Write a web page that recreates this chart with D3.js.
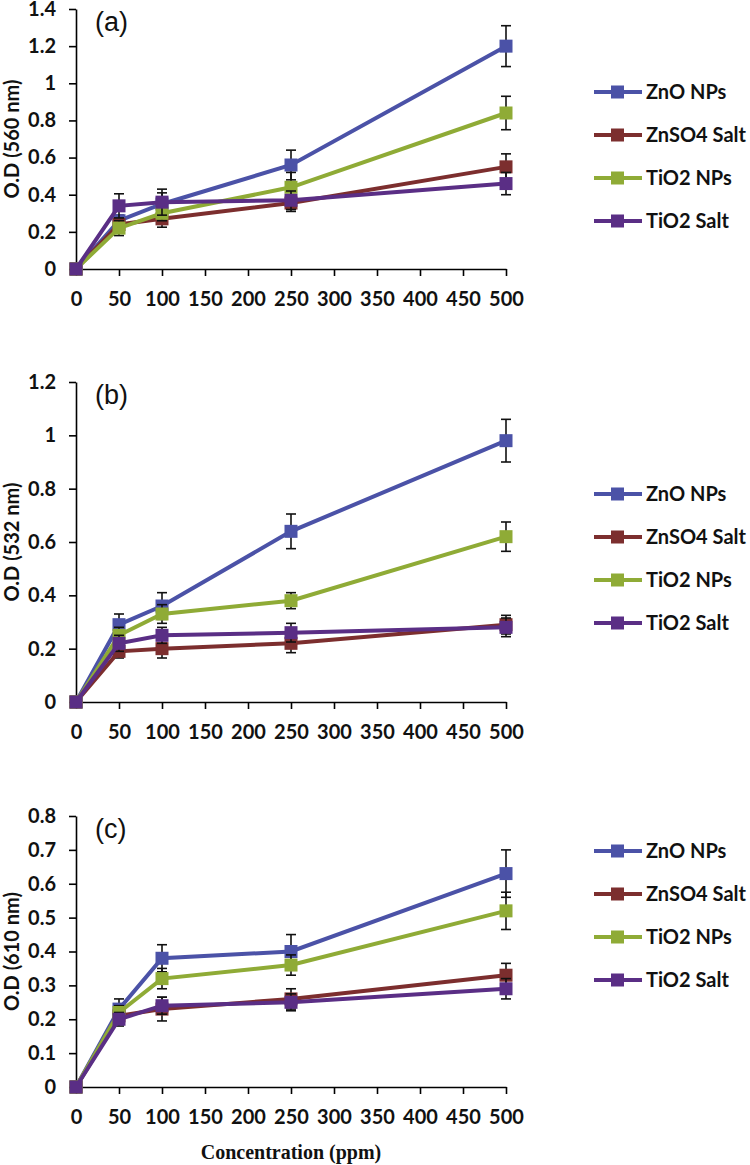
<!DOCTYPE html>
<html>
<head>
<meta charset="utf-8">
<script src="https://cdn.jsdelivr.net/npm/d3@7"></script>
<style>
  body { margin: 0; background: #fff; }
  svg { display: block; }
</style>
</head>
<body>
<div id="container"></div>
<script>
// concentrations (ppm)
let conc = [0, 50, 100, 250, 500];
let seriesNames = ["ZnO NPs", "ZnSO4 Salt", "TiO2 NPs", "TiO2 Salt"];
let seriesColors = ["#4b52a7", "#7c2e2e", "#8fab36", "#5a2e85"];

// panel (a) 560 nm
let zno_a = [0, 0.26, 0.35, 0.56, 1.20];
let znso4_a = [0, 0.24, 0.27, 0.355, 0.55];
let tio2_a = [0, 0.22, 0.30, 0.44, 0.84];
let tio2salt_a = [0, 0.34, 0.36, 0.37, 0.46];
let zno_a_err = [0, 0.03, 0.06, 0.08, 0.11];
let znso4_a_err = [0, 0.03, 0.045, 0.045, 0.07];
let tio2_a_err = [0, 0.04, 0.04, 0.08, 0.09];
let tio2salt_a_err = [0, 0.065, 0.07, 0.05, 0.06];

// panel (b) 532 nm
let zno_b = [0, 0.29, 0.36, 0.64, 0.98];
let znso4_b = [0, 0.19, 0.20, 0.22, 0.29];
let tio2_b = [0, 0.25, 0.33, 0.38, 0.62];
let tio2salt_b = [0, 0.22, 0.25, 0.26, 0.28];
let zno_b_err = [0, 0.04, 0.05, 0.065, 0.08];
let znso4_b_err = [0, 0.025, 0.035, 0.035, 0.035];
let tio2_b_err = [0, 0.03, 0.035, 0.03, 0.055];
let tio2salt_b_err = [0, 0.03, 0.03, 0.035, 0.035];

// panel (c) 610 nm
let zno_c = [0, 0.23, 0.38, 0.40, 0.63];
let znso4_c = [0, 0.21, 0.23, 0.26, 0.33];
let tio2_c = [0, 0.22, 0.32, 0.36, 0.52];
let tio2salt_c = [0, 0.20, 0.24, 0.25, 0.29];
let zno_c_err = [0, 0.03, 0.04, 0.05, 0.07];
let znso4_c_err = [0, 0.02, 0.035, 0.03, 0.035];
let tio2_c_err = [0, 0.02, 0.03, 0.03, 0.055];
let tio2salt_c_err = [0, 0.02, 0.025, 0.025, 0.03];

let xTicks = [0, 50, 100, 150, 200, 250, 300, 350, 400, 450, 500];

let panels = [
  { tag: "(a)", label: "O.D (560 nm)", ymax: 1.4, ystep: 0.2, top: 9, bottom: 269, legendY: 92,
    values: [zno_a, znso4_a, tio2_a, tio2salt_a], errs: [zno_a_err, znso4_a_err, tio2_a_err, tio2salt_a_err] },
  { tag: "(b)", label: "O.D (532 nm)", ymax: 1.2, ystep: 0.2, top: 382, bottom: 702, legendY: 494,
    values: [zno_b, znso4_b, tio2_b, tio2salt_b], errs: [zno_b_err, znso4_b_err, tio2_b_err, tio2salt_b_err] },
  { tag: "(c)", label: "O.D  (610 nm)", ymax: 0.8, ystep: 0.1, top: 816, bottom: 1087, legendY: 851,
    values: [zno_c, znso4_c, tio2_c, tio2salt_c], errs: [zno_c_err, znso4_c_err, tio2_c_err, tio2salt_c_err] }
];

let w = 750, h = 1165;
let plotLeft = 76, plotRight = 506;

let viz = d3.select("#container")
  .append("svg")
    .attr("width", w)
    .attr("height", h)
;

let x = d3.scaleLinear().domain([0, 500]).range([plotLeft, plotRight]);
let fmt = d => String(+d.toFixed(1));

panels.forEach(function(p){
  let g = viz.append("g").attr("class", "panel");
  let y = d3.scaleLinear().domain([0, p.ymax]).range([p.bottom, p.top]);
  let yTicks = d3.range(0, p.ymax + p.ystep / 2, p.ystep);

  // axes
  let xAxis = g.append("g")
    .attr("transform", "translate(0," + p.bottom + ")")
    .call(d3.axisBottom(x).tickValues(xTicks).tickSize(7).tickSizeOuter(0).tickPadding(16).tickFormat(d3.format("d")));
  let yAxis = g.append("g")
    .attr("transform", "translate(" + plotLeft + ",0)")
    .call(d3.axisLeft(y).tickValues(yTicks).tickSize(7).tickSizeOuter(0).tickPadding(13).tickFormat(fmt));

  [xAxis, yAxis].forEach(function(a){
    a.select(".domain").attr("stroke", "#000").attr("stroke-width", 1.6);
    a.selectAll(".tick line").attr("stroke", "#000").attr("stroke-width", 1.6);
    a.selectAll("text")
      .attr("fill", "#111")
      .style("font-family", "Lato, 'Open Sans', sans-serif")
      .style("font-weight", "700")
      .style("font-size", "20px");
  });

  // y label
  g.append("text")
    .text(p.label)
    .attr("transform", "translate(19," + ((p.top + p.bottom) / 2) + ") rotate(-90)")
    .attr("text-anchor", "middle")
    .style("font-family", "Lato, 'Open Sans', sans-serif")
    .style("font-weight", "700")
    .style("font-size", "20px")
    .attr("fill", "#111")
  ;

  // panel tag
  g.append("text")
    .text(p.tag)
    .attr("x", 95)
    .attr("y", p.top + 22)
    .style("font-family", "'Liberation Sans', Arial, sans-serif")
    .style("font-size", "27px")
    .attr("fill", "#111")
  ;

  // series
  p.values.forEach(function(vals, si){
    let col = seriesColors[si];
    let pts = conc.map((c, i) => ({ c: c, v: vals[i], e: p.errs[si][i] }));
    let sg = g.append("g").attr("class", "series");

    let bars = sg.selectAll(".err").data(pts.filter(d => d.e > 0)).enter().append("g").attr("class", "err");
    bars.append("line")
      .attr("x1", d => x(d.c)).attr("x2", d => x(d.c))
      .attr("y1", d => y(d.v - d.e)).attr("y2", d => y(d.v + d.e))
      .attr("stroke", "#111").attr("stroke-width", 1.6);
    bars.append("line")
      .attr("x1", d => x(d.c) - 5).attr("x2", d => x(d.c) + 5)
      .attr("y1", d => y(d.v + d.e)).attr("y2", d => y(d.v + d.e))
      .attr("stroke", "#111").attr("stroke-width", 1.6);
    bars.append("line")
      .attr("x1", d => x(d.c) - 5).attr("x2", d => x(d.c) + 5)
      .attr("y1", d => y(d.v - d.e)).attr("y2", d => y(d.v - d.e))
      .attr("stroke", "#111").attr("stroke-width", 1.6);

    sg.append("path")
      .datum(pts)
      .attr("d", d3.line().x(d => x(d.c)).y(d => y(d.v)))
      .attr("fill", "none")
      .attr("stroke", col)
      .attr("stroke-width", 4);

    sg.selectAll("rect").data(pts).enter().append("rect")
      .attr("x", d => x(d.c) - 6.5)
      .attr("y", d => y(d.v) - 6.5)
      .attr("width", 13).attr("height", 13)
      .attr("fill", col);
  });

  // legend
  let leg = g.selectAll(".legend").data(seriesNames).enter().append("g")
    .attr("class", "legend")
    .attr("transform", (d, i) => "translate(0," + (p.legendY + i * 43) + ")");
  leg.append("line")
    .attr("x1", 594).attr("x2", 642).attr("y1", 0).attr("y2", 0)
    .attr("stroke", (d, i) => seriesColors[i]).attr("stroke-width", 4);
  leg.append("rect")
    .attr("x", 611).attr("y", -6.5).attr("width", 13).attr("height", 13)
    .attr("fill", (d, i) => seriesColors[i]);
  leg.append("text")
    .text(d => d)
    .attr("x", 646).attr("y", 0).attr("dy", "0.36em")
    .style("font-family", "Lato, 'Open Sans', sans-serif")
    .style("font-weight", "700")
    .style("font-size", "20px")
    .attr("fill", "#111");
});

viz.append("text")
  .text("Concentration (ppm)")
  .attr("x", 291)
  .attr("y", 1159)
  .attr("text-anchor", "middle")
  .style("font-family", "'Liberation Serif', 'Times New Roman', serif")
  .style("font-weight", "700")
  .style("font-size", "20px")
  .attr("fill", "#111")
;
</script>
</body>
</html>
